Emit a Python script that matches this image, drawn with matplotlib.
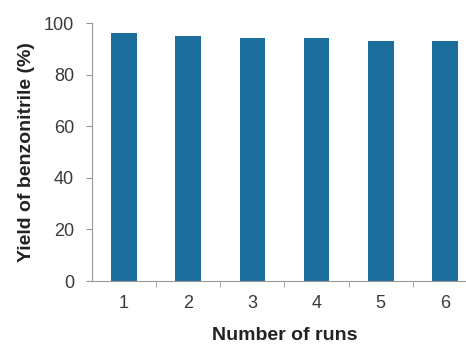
import matplotlib
matplotlib.use("Agg")
import matplotlib.pyplot as plt

runs = ["1", "2", "3", "4", "5", "6"]
yields = [96, 95, 94, 94, 93, 93]
y_ticks = [0, 20, 40, 60, 80, 100]

plt.rcParams["font.family"] = ["Liberation Sans", "DejaVu Sans"]

fig = plt.figure(figsize=(4.66, 3.45), dpi=100)
ax = fig.add_axes([0.1974, 0.1855, 0.8262, 0.7478])

x = list(range(len(runs)))
ax.bar(x, yields, width=0.4, color="#1b6d9b")

ax.set_xlim(-0.5, len(runs) - 0.5)
ax.set_ylim(0, 100)
ax.set_yticks(y_ticks)
ax.set_xticks(x)
ax.set_xticklabels(runs)
ax.set_xticks([i + 0.5 for i in x[:-1]], minor=True)
ax.tick_params(axis="x", which="major", length=0, pad=10)
ax.tick_params(axis="x", which="minor", length=4, direction="out", color="#999999")
ax.tick_params(axis="y", length=4, direction="out", color="#999999", pad=9)
ax.tick_params(labelsize=13, labelcolor="#3a3a3a")

for side in ("top", "right"):
    ax.spines[side].set_visible(False)
for side in ("left", "bottom"):
    ax.spines[side].set_color("#999999")
    ax.spines[side].set_linewidth(0.8)

ax.set_ylabel("Yield of benzonitrile (%)", fontsize=14, fontweight="bold",
              color="#222222", labelpad=6)
ax.set_xlabel("Number of runs", fontsize=14, fontweight="bold",
              color="#222222", labelpad=11)

fig.savefig("out.png", dpi=100)
